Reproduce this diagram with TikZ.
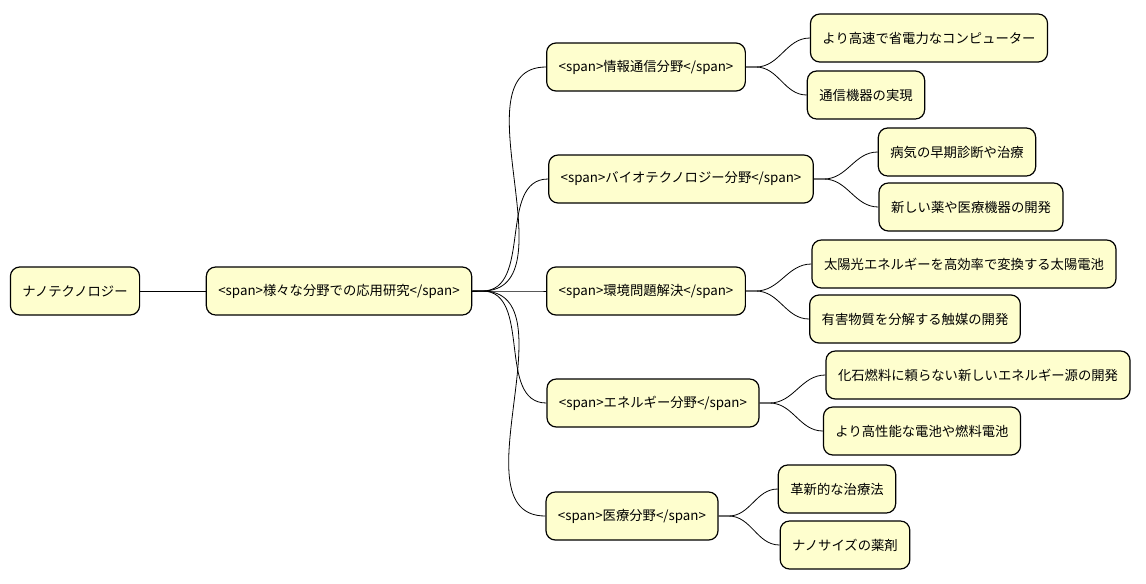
\documentclass[tikz,border=0pt]{standalone}
\usepackage{fontspec}
\setmainfont{Noto Sans CJK JP}
\usetikzlibrary{positioning,calc}
\definecolor{topicfill}{HTML}{FEFECE}
\tikzset{
  topic/.style={draw=black, line width=0.9pt, fill=topicfill, rounded corners=7pt,
    minimum height=36, inner xsep=9, font=\fontsize{10}{12}\selectfont},
  branch/.style={line width=0.6pt},
}
\begin{document}
\begin{tikzpicture}[x=0.75pt,y=-0.75pt]
\useasboundingbox (0,0) rectangle (1146,583);
% Root and main
\node[topic] (nano) at (75,291) {ナノテクノロジー};
\node[topic] (apps) at (339,291) {<span>様々な分野での応用研究</span>};
% Fields
\node[topic] (info) at (646,67) {<span>情報通信分野</span>};
\node[topic] (bio) at (681,179) {<span>バイオテクノロジー分野</span>};
\node[topic] (env) at (646,291) {<span>環境問題解決</span>};
\node[topic] (energy) at (653,403) {<span>エネルギー分野</span>};
\node[topic] (med) at (632,516) {<span>医療分野</span>};
% Leaves
\node[topic] (info1) at (929,38) {より高速で省電力なコンピューター};
\node[topic] (info2) at (866,95) {通信機器の実現};
\node[topic] (bio1) at (957,152) {病気の早期診断や治療};
\node[topic] (bio2) at (971,207) {新しい薬や医療機器の開発};
\node[topic] (env1) at (964,264) {太陽光エネルギーを高効率で変換する太陽電池};
\node[topic] (env2) at (915,319) {有害物質を分解する触媒の開発};
\node[topic] (energy1) at (978,375) {化石燃料に頼らない新しいエネルギー源の開発};
\node[topic] (energy2) at (922,431) {より高性能な電池や燃料電池};
\node[topic] (med1) at (837,489) {革新的な治療法};
\node[topic] (med2) at (845,545) {ナノサイズの薬剤};
% Connectors
\draw[branch] (nano.east) -- (apps.west);
\foreach \c in {info,bio,env,energy,med}
  \draw[branch] (apps.east) -- ++(10,0) to[out=0,in=180] (\c.west);
\foreach \p/\c in {info/info1,info/info2,bio/bio1,bio/bio2,env/env1,env/env2,
    energy/energy1,energy/energy2,med/med1,med/med2}
  \draw[branch] (\p.east) -- ++(10,0) to[out=0,in=180] (\c.west);
\end{tikzpicture}
\end{document}
